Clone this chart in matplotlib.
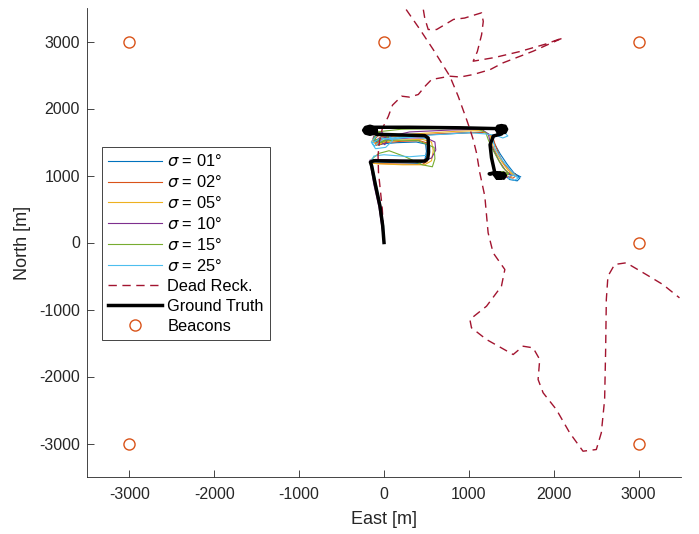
import matplotlib
matplotlib.use("Agg")
import matplotlib.pyplot as plt

plt.rcParams['font.family'] = ['Liberation Sans', 'DejaVu Sans']
plt.rcParams['axes.unicode_minus'] = False

# Trajectoires estimées (une par sigma)
sigma_labels = ["01", "02", "05", "10", "15", "25"]
sigma_colors = ["#0072BD", "#D95319", "#EDB120", "#7E2F8E", "#77AC30", "#4DBEEE"]

x01 = [0, -10, -45, -100, -140, -150, -100, 150, 420, 480, 500, 490, 380, 150, -40, -110, -90, 0, 30, -60, -110, -30, 400, 900, 1180, 1260, 1300, 1370, 1450, 1530, 1600, 1570, 1480, 1430, 1520, 1610]
y01 = [0, 245, 545, 885, 1135, 1195, 1205, 1190, 1180, 1220, 1360, 1470, 1500, 1490, 1470, 1520, 1600, 1590, 1510, 1450, 1500, 1580, 1600, 1630, 1650, 1600, 1480, 1320, 1170, 1040, 960, 920, 940, 1000, 1040, 980]

x02 = [0, -20, -55, -110, -150, -155, -90, 180, 450, 510, 530, 520, 420, 200, 0, -90, -130, -60, 40, -20, -100, 10, 450, 950, 1200, 1280, 1310, 1360, 1420, 1500, 1560, 1520, 1440, 1400, 1480, 1550]
y02 = [0, 240, 540, 880, 1130, 1185, 1180, 1170, 1165, 1210, 1350, 1480, 1520, 1510, 1490, 1450, 1530, 1600, 1560, 1470, 1480, 1570, 1610, 1640, 1640, 1580, 1460, 1300, 1160, 1060, 1000, 960, 980, 1020, 1040, 1000]

x05 = [0, -15, -50, -105, -145, -150, -80, 220, 480, 560, 580, 560, 450, 250, 30, -80, -140, -100, 0, 60, -50, -60, 350, 850, 1150, 1250, 1270, 1320, 1390, 1460, 1530, 1490, 1420, 1380, 1450, 1520]
y05 = [0, 250, 550, 890, 1140, 1190, 1175, 1160, 1160, 1220, 1370, 1500, 1540, 1530, 1510, 1470, 1520, 1600, 1620, 1550, 1470, 1560, 1620, 1660, 1670, 1600, 1480, 1340, 1200, 1080, 1010, 980, 1000, 1030, 1050, 1010]

x10 = [0, -25, -60, -120, -155, -165, -100, 150, 430, 560, 610, 600, 500, 300, 60, -50, -130, -110, -20, 50, 10, -80, 300, 800, 1150, 1230, 1250, 1300, 1360, 1430, 1500, 1460, 1400, 1370, 1440, 1510]
y10 = [0, 235, 530, 870, 1130, 1230, 1240, 1230, 1215, 1260, 1380, 1500, 1560, 1560, 1540, 1500, 1550, 1620, 1640, 1560, 1460, 1540, 1650, 1680, 1690, 1620, 1500, 1360, 1210, 1080, 1000, 970, 990, 1020, 1040, 1000]

x15 = [0, -15, -50, -110, -150, -140, -60, 60, 250, 450, 570, 600, 590, 400, 150, -50, -120, -60, 50, -30, -120, -90, 200, 700, 1100, 1200, 1230, 1280, 1340, 1400, 1470, 1420, 1370, 1330, 1400, 1460]
y15 = [0, 245, 540, 880, 1130, 1250, 1330, 1370, 1280, 1160, 1130, 1250, 1420, 1520, 1530, 1510, 1560, 1640, 1580, 1490, 1540, 1650, 1690, 1700, 1700, 1640, 1530, 1390, 1250, 1120, 1030, 1000, 1010, 1040, 1060, 1020]

x25 = [0, -5, -40, -95, -135, -150, -120, 0, 300, 500, 540, 520, 400, 150, -20, -110, -150, -80, 60, 100, 20, -100, -140, -40, 80, 500, 1000, 1200, 1320, 1400, 1460, 1420, 1330, 1280, 1310, 1380, 1450, 1520, 1580, 1540, 1460, 1500, 1570]
y25 = [0, 250, 550, 890, 1140, 1210, 1290, 1310, 1280, 1300, 1420, 1540, 1580, 1570, 1540, 1440, 1500, 1600, 1600, 1520, 1420, 1400, 1480, 1560, 1540, 1600, 1640, 1620, 1600, 1560, 1590, 1640, 1620, 1540, 1400, 1250, 1140, 1040, 960, 930, 960, 1010, 980]

est_x = [x01, x02, x05, x10, x15, x25]
est_y = [y01, y02, y05, y10, y15, y25]

# Navigation à l'estime
dr_x = [0, -20, -65, -70, -55, -20, 50, 100, 208, 300, 404, 490, 561, 776, 900, 1051, 1250, 1404, 1757, 2110,
        1900, 1600, 1300, 1051, 1100, 1150, 1170, 1149, 950, 820, 620, 521, 480, 463, 350, 247,
        424, 580, 776, 874, 973, 1010, 1051, 1090, 1129, 1188, 1227, 1286, 1424, 1384, 1208, 1012, 1031,
        1208, 1522, 1639, 1757, 1835, 1816, 1875, 2031, 2188, 2345, 2502, 2561, 2600, 2612, 2620, 2639,
        2718, 2855, 3090, 3286, 3482]
dr_y = [0, 500, 1050, 1300, 1500, 1700, 1880, 2050, 2184, 2170, 2209, 2340, 2433, 2482, 2470, 2507, 2580, 2682, 2855, 3055,
        2960, 2850, 2760, 2706, 2850, 3100, 3300, 3428, 3350, 3330, 3179, 3179, 3350, 3480, 3650, 3503,
        3179, 2880, 2482, 2184, 1836, 1700, 1537, 1338, 1040, 691, 145, -154, -403, -652, -951, -1149, -1273,
        -1448, -1672, -1548, -1572, -1746, -2045, -2243, -2493, -2840, -3115, -3090, -2840, -2343, -1597, -851, -503,
        -328, -303, -478, -627, -826]

# Vérité terrain
gt_x = [0, -15, -47, -106, -145, -160, -120, 200, 480, 515, 525, 520, 480, 200, -90,
        -90, -112, -165, -218, -240, -218, -165, -112, -90, -110, -126, -165, -204, -220, -204, -165, -126, -110,
        -135, -150, -180, -195, -180, -150, -100,
        300, 900, 1325,
        1343, 1385, 1427, 1445, 1427, 1385, 1343, 1325, 1345, 1357, 1385, 1413, 1425, 1413, 1385, 1357, 1345,
        1385, 1400, 1370, 1385,
        1290, 1250, 1267, 1306, 1240, 1300,
        1310, 1330, 1350, 1330, 1310, 1340, 1370, 1390, 1370, 1340, 1380, 1410, 1430, 1410, 1380, 1330]
gt_y = [0, 245, 540, 890, 1140, 1200, 1220, 1215, 1215, 1250, 1350, 1560, 1595, 1605, 1615,
        1675, 1717, 1735, 1717, 1675, 1633, 1615, 1633, 1675, 1675, 1707, 1720, 1707, 1675, 1643, 1630, 1643, 1675,
        1700, 1700, 1690, 1675, 1655, 1650, 1720,
        1720, 1712, 1700,
        1735, 1745, 1735, 1690, 1645, 1635, 1645, 1690, 1690, 1717, 1725, 1717, 1690, 1663, 1655, 1663, 1690,
        1705, 1690, 1675, 1620,
        1590, 1460, 1264, 1040, 1025, 1030,
        1000, 1035, 1000, 960, 1000, 1040, 1040, 1000, 960, 960, 1000, 1035, 1000, 960, 965, 1000]

# Balises
beacon_x = [-3000, 0, 3000, -3000, 3000, 3000]
beacon_y = [3000, 3000, 3000, -3000, -3000, 0]

ticks = [-3000, -2000, -1000, 0, 1000, 2000, 3000]

fig = plt.figure(figsize=(6.99, 5.34), dpi=100)
ax = fig.add_axes([87 / 699, 57 / 534, 594 / 699, 469 / 534])

for xs, ys, lab, col in zip(est_x, est_y, sigma_labels, sigma_colors):
    ax.plot(xs, ys, color=col, lw=0.8, label=r"$\sigma$ = " + lab + "°")

ax.plot(dr_x, dr_y, color="#A2142F", lw=1.0, ls=(0, (6, 4)), label="Dead Reck.")
ax.plot(gt_x, gt_y, color="black", lw=2.5, label="Ground Truth")
ax.plot(beacon_x, beacon_y, ls="none", marker="o", ms=8, mfc="none",
        mec="#D95319", mew=1.0, label="Beacons")

ax.set_xlim(-3500, 3500)
ax.set_ylim(-3500, 3500)
ax.set_xticks(ticks)
ax.set_yticks(ticks)
ax.tick_params(direction="in", length=5, width=0.6, labelsize=11.5,
               colors="#262626")
ax.tick_params(axis="x", pad=7)
ax.tick_params(axis="y", pad=5)
for side in ["top", "right"]:
    ax.spines[side].set_visible(False)
for side in ["left", "bottom"]:
    ax.spines[side].set_color("#262626")
    ax.spines[side].set_linewidth(0.6)

ax.set_xlabel("East [m]", fontsize=13, color="#262626", labelpad=7)
ax.set_ylabel("North [m]", fontsize=13, color="#262626", labelpad=6)

leg = ax.legend(loc="upper left", bbox_to_anchor=(0.025, 0.704), fontsize=11.8,
                handlelength=3.3, handletextpad=0.3, labelspacing=0.3,
                borderpad=0.4, borderaxespad=0, fancybox=False, framealpha=1,
                edgecolor="#262626")
leg.get_frame().set_linewidth(0.6)

fig.savefig("out.png", dpi=100)
